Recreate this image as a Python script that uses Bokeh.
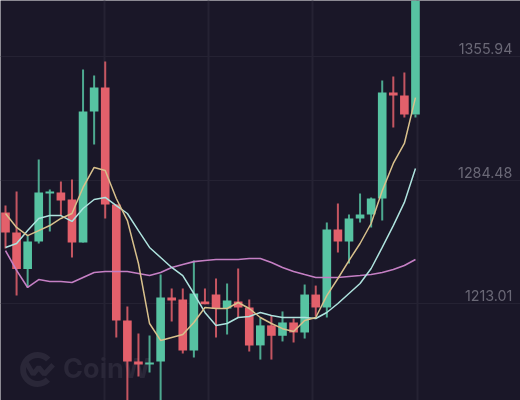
from bokeh.plotting import figure
from bokeh.models import FixedTicker, Range1d
from bokeh.core.properties import value
from bokeh.embed import file_html
from bokeh.resources import INLINE

highs  = [1269.8,1278.0,1252.4,1296.5,1279.1,1283.7,1284.9,1348.7,1345.2,1353.3,1270.4,1211.3,1195.6,1194.4,1229.8,1221.7,1221.7,1237.9,1221.7,1227.5,1224.6,1233.3,1215.3,1204.9,1206.0,1208.4,1204.3,1224.0,1223.4,1260.0,1271.0,1264.6,1276.8,1274.5,1342.3,1344.6,1346.95,1322.6]
opens  = [1265.8,1254.2,1233.0,1249.0,1276.8,1277.4,1273.3,1248.4,1324.3,1338.3,1270.4,1203.2,1179.4,1177.6,1179.4,1216.5,1215.3,1185.8,1214.2,1218.2,1210.1,1214.2,1210.7,1188.7,1200.3,1194.3,1202.0,1196.2,1218.2,1210.7,1255.9,1249.0,1262.3,1264.6,1273.9,1335.4,1333.6,1322.6]
closes = [1254.2,1233.0,1249.0,1277.4,1277.9,1272.7,1248.4,1324.3,1338.3,1270.4,1203.2,1179.4,1177.6,1178.8,1216.5,1214.8,1185.8,1218.8,1212.5,1210.1,1214.8,1210.7,1188.7,1200.3,1194.3,1202.0,1196.2,1218.2,1210.7,1255.9,1249.0,1262.3,1264.6,1273.9,1335.4,1333.6,1322.6,1394.5]
lows   = [1244.9,1217.6,1222.3,1247.8,1254.8,1264.0,1239.7,1248.4,1305.2,1262.3,1193.3,1153.9,1170.7,1173.0,1153.9,1202.6,1184.0,1181.7,1212.5,1193.3,1195.0,1204.9,1185.2,1180.5,1180.5,1191.0,1190.4,1192.7,1205.5,1204.9,1242.6,1236.2,1260.0,1257.1,1261.1,1315.1,1320.9,1320.9]

ma5  = [1265.2,1257.1,1252.4,1255.3,1258.2,1262.3,1265.2,1280.3,1291.9,1290.1,1273.9,1261.1,1236.2,1201.4,1191.6,1193.3,1195.0,1202.0,1210.7,1210.1,1210.1,1213.6,1210.1,1204.9,1201.4,1198.4,1196.8,1203.2,1204.9,1217.6,1227.5,1237.9,1247.8,1259.4,1278.4,1294.2,1305.8,1332.4]
ma10 = [1245.5,1247.8,1255.3,1262.3,1264.0,1264.0,1260.6,1268.1,1273.3,1274.5,1269.8,1265.2,1255.3,1245.5,1239.7,1233.9,1229.2,1218.8,1207.8,1200.3,1201.4,1204.9,1205.5,1207.8,1206.0,1204.9,1204.9,1204.9,1204.3,1207.8,1213.0,1218.8,1224.6,1233.3,1245.5,1258.2,1271.6,1291.3]
ma30 = [1243.7,1232.2,1222.3,1226.9,1225.8,1225.8,1225.2,1228.1,1231.0,1231.6,1231.6,1231.6,1230.4,1229.2,1231.0,1233.9,1235.6,1237.3,1237.9,1238.5,1238.5,1238.5,1239.1,1239.1,1236.8,1233.9,1231.6,1229.8,1228.1,1228.1,1228.1,1228.7,1229.2,1229.8,1231.0,1232.7,1235.0,1238.5]

tick_values = [1355.94, 1284.48, 1213.01]
tick_labels = ["1355.94", "1284.48", "1213.01"]
time_grid = [8.95, 18.33, 27.75, 37.2]
watermark = "CoinW"

BG = "#1a1728"
GRID = "#252233"
UP = "#57c3a2"
DOWN = "#e3606b"

n = len(closes)
xs = list(range(n))

p = figure(width=520, height=400, output_backend="svg", toolbar_location=None,
           x_range=Range1d(-0.451, 46.48), y_range=Range1d(1156.76, 1388.7),
           background_fill_color=BG, border_fill_color=BG, min_border=0,
           styles={"position": "fixed", "left": "0px", "top": "0px"})
p.outline_line_color = None
p.xaxis.visible = False
p.yaxis.visible = False
p.xgrid.ticker = FixedTicker(ticks=time_grid)
p.ygrid.ticker = FixedTicker(ticks=tick_values)
p.xgrid.grid_line_color = GRID
p.ygrid.grid_line_color = GRID
p.xgrid.grid_line_width = 2
p.ygrid.grid_line_width = 1

# watermark
WM = "#2a2738"
p.arc(x=[2.9], y=[1174.8], radius=14.5, radius_units="screen", start_angle=[0.75], end_angle=[5.5],
      line_color=WM, line_width=6)
p.line(x=[1.9, 2.5, 3.0, 3.5, 4.3], y=[1178.5, 1172.0, 1176.0, 1172.0, 1177.5], line_color=WM, line_width=5)
p.text(x=[5.2], y=[1175.2], text=[watermark], text_font=value("Inter"), text_font_style="bold",
       text_font_size="27px", text_color=WM, text_baseline="middle", text_align="left")

colors = [UP if c >= o else DOWN for o, c in zip(opens, closes)]
p.segment(x0=xs, y0=lows, x1=xs, y1=highs, line_color=colors, line_width=2, line_alpha=0.85)
p.vbar(x=xs, top=[max(o, c) for o, c in zip(opens, closes)], bottom=[min(o, c) for o, c in zip(opens, closes)],
       width=0.78, fill_color=colors, line_color=None)

p.line(xs, ma30, line_color="#c57fc4", line_width=1.6)
p.line(xs, ma10, line_color="#aee3de", line_width=1.5)
p.line(xs, ma5, line_color="#d8c08c", line_width=1.5)

p.text(x=[45.75] * 3, y=tick_values, text=tick_labels, text_font=value("Inter"), text_font_size="14.3px",
       text_color="#6a6876", text_align="right", text_baseline="middle", y_offset=-8)

open("out.html", "w").write(file_html(p, INLINE))
